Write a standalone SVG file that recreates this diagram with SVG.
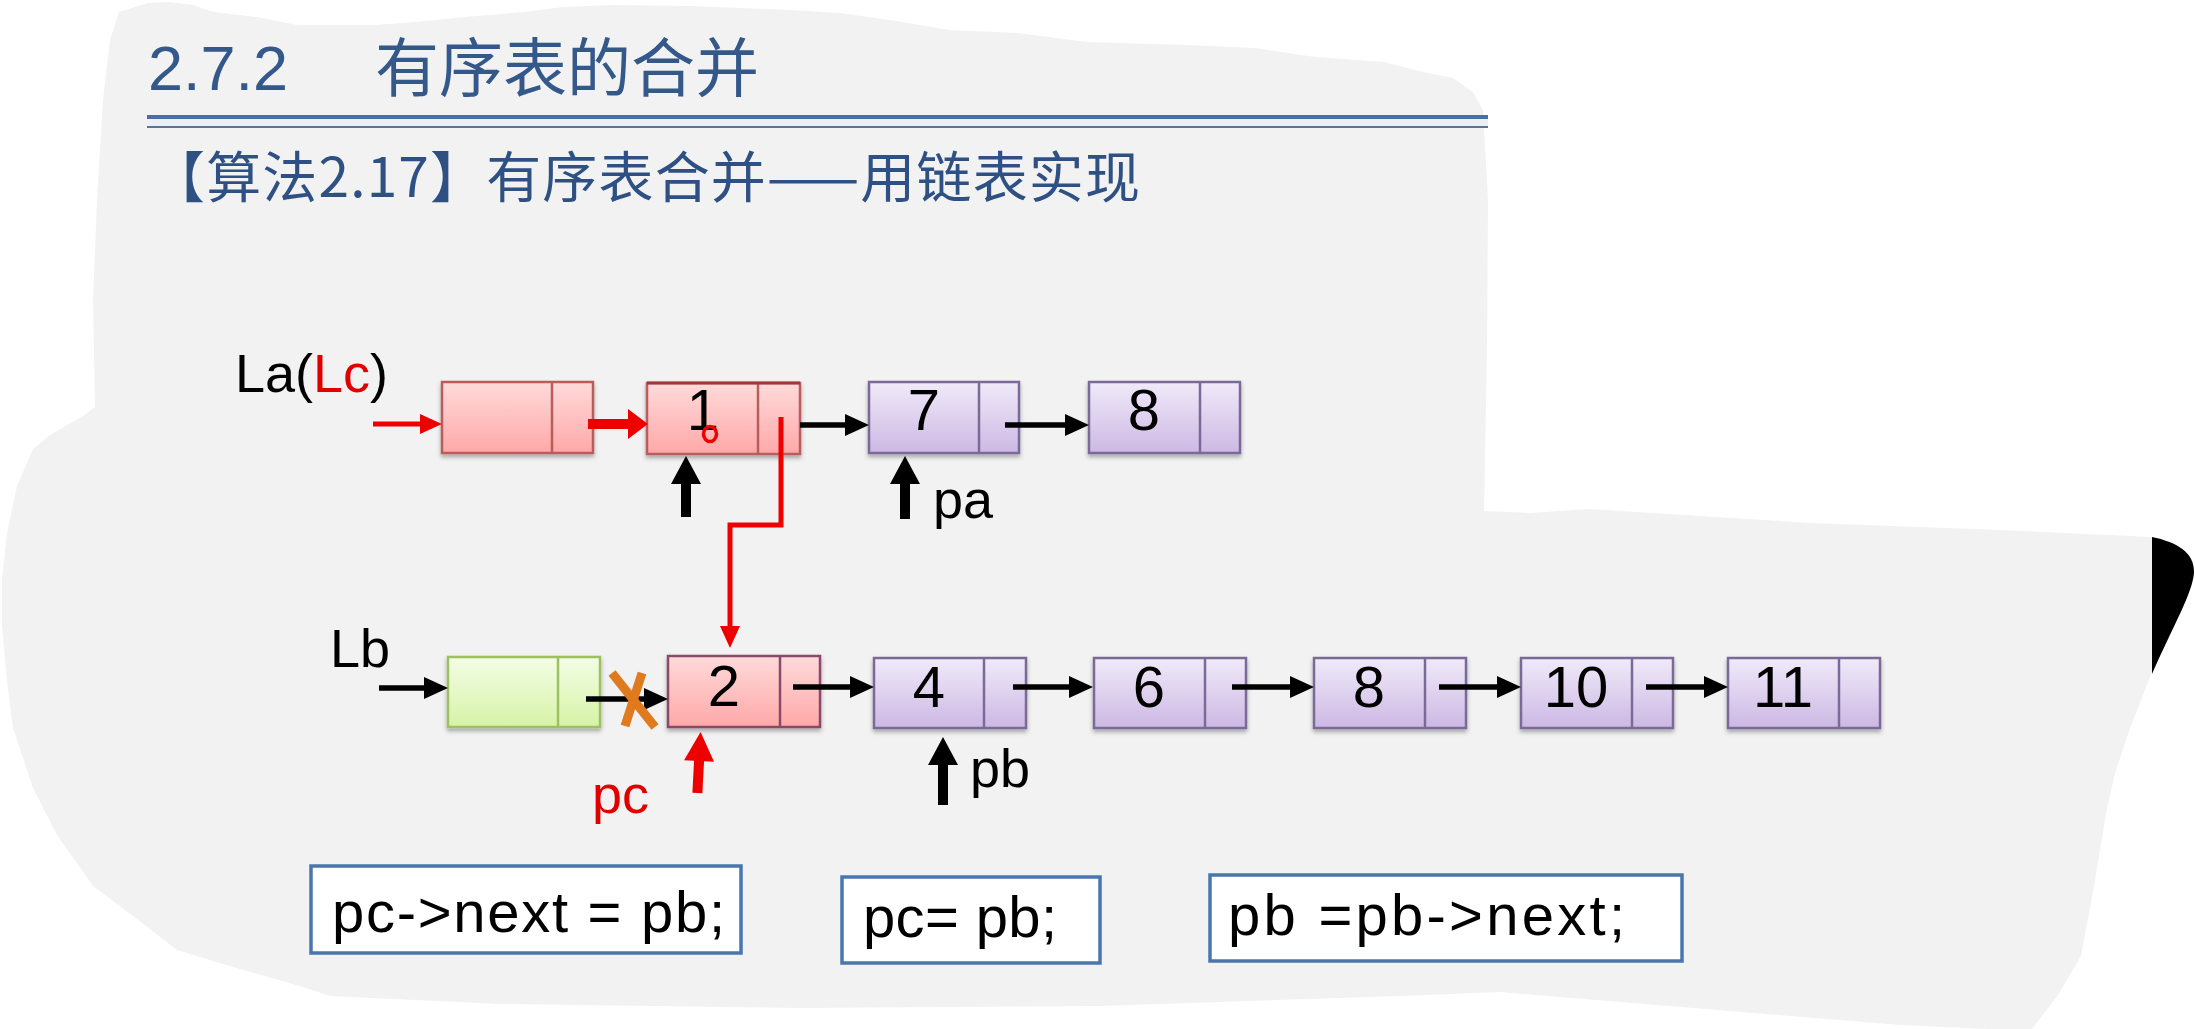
<svg xmlns="http://www.w3.org/2000/svg" width="2195" height="1029" viewBox="0 0 2195 1029">
<style>
.lat{font-family:"Liberation Sans","Noto Sans CJK SC",sans-serif;}
.cjk{font-family:"Noto Sans CJK SC","Noto Sans CJK TC",sans-serif;}
.hd{fill:#34588a;}
.num{font-family:"Liberation Sans",sans-serif;font-size:58px;fill:#000;text-anchor:middle;}
.lbl{font-family:"Liberation Sans",sans-serif;font-size:54px;}
.code{font-family:"Liberation Sans",sans-serif;font-size:58px;fill:#000;}
.pu{fill:url(#gPu);stroke:#7a6a98;stroke-width:2.5;}
.pud{stroke:#7a6a98;stroke-width:2.5;}
.rd{fill:url(#gRd);stroke:#b85c5c;stroke-width:2.5;}
.rdd{stroke:#b85c5c;stroke-width:2.5;}
.gr{fill:url(#gGr);stroke:#9cc062;stroke-width:2.5;}
.grd{stroke:#9cc062;stroke-width:2.5;}
.blk{stroke:#000;stroke-width:5.5;fill:none;marker-end:url(#ahB);}
.red{stroke:#ee0000;stroke-width:5;fill:none;marker-end:url(#ahR);}
.box{fill:#fff;stroke:#4a76ae;stroke-width:3.5;}
</style>
<defs>
<linearGradient id="gPu" x1="0" y1="0" x2="0" y2="1"><stop offset="0" stop-color="#f0eaf9"/><stop offset="1" stop-color="#cdb8e4"/></linearGradient>
<linearGradient id="gRd" x1="0" y1="0" x2="0" y2="1"><stop offset="0" stop-color="#ffdada"/><stop offset="1" stop-color="#ffa8a8"/></linearGradient>
<linearGradient id="gGr" x1="0" y1="0" x2="0" y2="1"><stop offset="0" stop-color="#f4fde6"/><stop offset="1" stop-color="#d6f3a6"/></linearGradient>
<filter id="sh" x="-10%" y="-10%" width="120%" height="140%"><feDropShadow dx="0" dy="3" stdDeviation="2" flood-color="#000" flood-opacity="0.3"/></filter>
<marker id="ahB" viewBox="0 0 24 22" refX="11" refY="11" markerWidth="24" markerHeight="22" markerUnits="userSpaceOnUse" orient="auto"><path d="M0,0 L24,11 L0,22 Z" fill="#000"/></marker>
<marker id="ahR" viewBox="0 0 22 20" refX="10" refY="10" markerWidth="22" markerHeight="20" markerUnits="userSpaceOnUse" orient="auto"><path d="M0,0 L22,10 L0,20 Z" fill="#ee0000"/></marker>
<marker id="ahR2" viewBox="0 0 20 30" refX="8" refY="15" markerWidth="20" markerHeight="30" markerUnits="userSpaceOnUse" orient="auto"><path d="M0,0 L20,15 L0,30 Z" fill="#ee0000"/></marker>
</defs>

<rect x="0" y="0" width="2195" height="1029" fill="#fff"/>
<path id="blob" fill="#f2f2f2" d="M119,12 L148,3 L168,2 L193,5 L213,12 L257,17 L297,25 L376,25 L415,22 L465,17 L524,12 L563,7 L613,5 L692,6 L791,10 L840,13 L890,20 L949,30 L1018,33 L1087,42 L1186,45 L1255,48 L1315,57 L1384,62 L1423,72 L1453,78 L1473,92 L1483,110 L1488,200 L1487,350 L1484,511 L1530,513 L1589,509 L1700,516 L1810,523 L2000,530 L2152,537 L2152,672 L2129,731 L2116,770 L2107,808 L2094,886 L2081,956 L2058,995 L2032,1029 L1988,1029 L1900,1025 L1766,1014 L1500,992 L1400,996 L1100,1006 L800,1008 L500,1004 L330,996 L300,986 L233,967 L177,950 L133,916 L93,886 L57,835 L33,788 L13,728 L7,681 L2,626 L2,579 L7,533 L17,486 L33,449 L50,435 L83,416 L95,407 L93,300 L97,200 L103,100 L110,40 Z"/>
<path id="blackcorner" fill="#000" d="M2152,537 C2176,542 2195,552 2194,573 C2192,594 2175,622 2152,674 Z"/>

<g id="title">
<text class="hd" y="90" font-size="63"><tspan class="lat" x="148">2.7.2</tspan><tspan class="cjk" x="375" font-size="64" y="91">有序表的合并</tspan></text>
<rect x="147" y="115" width="1341" height="4" fill="#4d6f9e"/>
<rect x="147" y="119" width="1341" height="7" fill="#eaf0f6"/>
<rect x="147" y="126" width="1341" height="2" fill="#5b7396"/>
<text class="cjk" x="150" y="197" font-size="55" fill="#2e5083" textLength="990" lengthAdjust="spacing">【算法2.17】有序表合并——用链表实现</text>
</g>

<g id="labels">
<text class="lbl" x="235" y="392" font-size="52" fill="#000">La(<tspan fill="#e00000">Lc</tspan>)</text>
<text class="lbl" x="330" y="667" fill="#000">Lb</text>
<text class="lbl" x="933" y="518" fill="#000">pa</text>
<text class="lbl" x="970" y="787" fill="#000">pb</text>
<text class="lbl" x="592" y="813" fill="#e00000">pc</text>
</g>

<g id="node-la-head" filter="url(#sh)"><rect class="rd" x="442" y="382" width="151" height="71"/><line class="rdd" x1="552" y1="382" x2="552" y2="453"/></g>
<g id="node-a1" filter="url(#sh)"><rect class="rd" x="647" y="383" width="153" height="71"/><line class="rdd" x1="758" y1="383" x2="758" y2="454"/><line x1="647" y1="383" x2="800" y2="383" stroke="#a03838" stroke-width="3"/><text class="num" x="703" y="430">1</text><ellipse cx="710" cy="434" rx="6.5" ry="7.5" fill="none" stroke="#ee0000" stroke-width="3.5"/></g>
<g id="node-a7" filter="url(#sh)"><rect class="pu" x="869" y="382" width="150" height="71"/><line class="pud" x1="979" y1="382" x2="979" y2="453"/><text class="num" x="924" y="430">7</text></g>
<g id="node-a8" filter="url(#sh)"><rect class="pu" x="1089" y="382" width="151" height="71"/><line class="pud" x1="1200" y1="382" x2="1200" y2="453"/><text class="num" x="1144" y="430">8</text></g>

<g id="node-lb-head" filter="url(#sh)"><rect class="gr" x="448" y="657" width="152" height="70"/><line class="grd" x1="558" y1="657" x2="558" y2="727"/></g>
<g id="node-b2" filter="url(#sh)"><rect x="668" y="656" width="152" height="71" fill="url(#gRd)" stroke="#8a4a68" stroke-width="2.5"/><line x1="780" y1="656" x2="780" y2="727" stroke="#8a4a68" stroke-width="2.5"/><text class="num" x="724" y="706">2</text></g>
<g id="node-b4" filter="url(#sh)"><rect class="pu" x="874" y="658" width="152" height="70"/><line class="pud" x1="984" y1="658" x2="984" y2="728"/><text class="num" x="929" y="707">4</text></g>
<g id="node-b6" filter="url(#sh)"><rect class="pu" x="1094" y="658" width="152" height="70"/><line class="pud" x1="1205" y1="658" x2="1205" y2="728"/><text class="num" x="1149" y="707">6</text></g>
<g id="node-b8" filter="url(#sh)"><rect class="pu" x="1314" y="658" width="152" height="70"/><line class="pud" x1="1425" y1="658" x2="1425" y2="728"/><text class="num" x="1369" y="707">8</text></g>
<g id="node-b10" filter="url(#sh)"><rect class="pu" x="1521" y="658" width="152" height="70"/><line class="pud" x1="1632" y1="658" x2="1632" y2="728"/><text class="num" x="1576" y="707">10</text></g>
<g id="node-b11" filter="url(#sh)"><rect class="pu" x="1728" y="658" width="152" height="70"/><line class="pud" x1="1839" y1="658" x2="1839" y2="728"/><text class="num" x="1783" y="707">11</text></g>

<g id="connectors">
<line class="red" x1="373" y1="424" x2="430" y2="424"/>
<line x1="588" y1="424" x2="636" y2="424" stroke="#ee0000" stroke-width="10" marker-end="url(#ahR2)"/>
<line class="blk" x1="800" y1="425" x2="856" y2="425"/>
<line class="blk" x1="1005" y1="425" x2="1076" y2="425"/>
<path class="red" d="M781,417 V525 H730 V636" stroke-width="4"/>
<line class="blk" x1="379" y1="688" x2="435" y2="688"/>
<line class="blk" x1="586" y1="699" x2="655" y2="699"/>
<line class="blk" x1="793" y1="687" x2="861" y2="687"/>
<line class="blk" x1="1013" y1="687" x2="1080" y2="687"/>
<line class="blk" x1="1232" y1="687" x2="1301" y2="687"/>
<line class="blk" x1="1439" y1="687" x2="1508" y2="687"/>
<line class="blk" x1="1646" y1="687" x2="1715" y2="687"/>
<g id="cross" stroke="#e07a1f" stroke-width="9"><line x1="612" y1="673" x2="655" y2="727"/><line x1="642" y1="673" x2="625" y2="726"/></g>
<polygon id="up-a1" fill="#000" points="686,456 701,484 691,484 691,517 681,517 681,484 671,484"/>
<polygon id="up-pa" fill="#000" points="905,456 920,484 910,484 910,519 900,519 900,484 890,484"/>
<polygon id="up-pb" fill="#000" points="943,737 958,765 948,765 948,805 938,805 938,765 928,765"/>
<polygon id="up-pc" fill="#ee0000" transform="rotate(3 699 762)" points="699,732 714,761 704,761 704,793 694,793 694,761 684,761"/>
</g>

<g id="code1"><rect class="box" x="311" y="866" width="430" height="87"/><text class="code" x="332" y="932" textLength="393" lengthAdjust="spacing">pc-&gt;next = pb;</text></g>
<g id="code2"><rect class="box" x="842" y="877" width="258" height="86"/><text class="code" x="863" y="937" textLength="194" lengthAdjust="spacing">pc= pb;</text></g>
<g id="code3"><rect class="box" x="1210" y="875" width="472" height="86"/><text class="code" x="1228" y="935" textLength="397" lengthAdjust="spacing">pb =pb-&gt;next;</text></g>
</svg>
